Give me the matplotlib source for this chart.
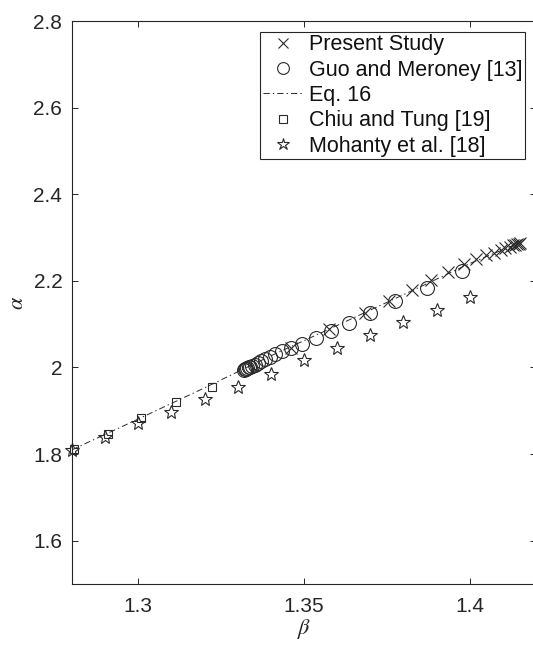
import matplotlib
matplotlib.use("Agg")
import matplotlib.pyplot as plt
from matplotlib.ticker import FormatStrFormatter

plt.rcParams['font.family'] = ['Liberation Sans', 'DejaVu Sans']
plt.rcParams['mathtext.fontset'] = 'stix'
plt.rcParams['lines.scale_dashes'] = False

# Present Study (x marks)
present_beta = [1.3461, 1.3575, 1.3684, 1.3756, 1.3825, 1.3883, 1.3934, 1.3982,
                1.4018, 1.4048, 1.4072, 1.4093, 1.4108, 1.4121, 1.4130, 1.4137,
                1.4143, 1.4148, 1.4151]
present_alpha = [2.046, 2.088, 2.125, 2.154, 2.180, 2.203, 2.221, 2.240,
                 2.250, 2.259, 2.265, 2.272, 2.276, 2.279, 2.282, 2.283,
                 2.285, 2.286, 2.287]

# Guo and Meroney [13] (circles)
guo_beta = [1.3319, 1.3322, 1.3325, 1.3328, 1.3333, 1.3337, 1.3343, 1.3351,
            1.3360, 1.3370, 1.3383, 1.3396, 1.3413, 1.3434, 1.3461, 1.3494,
            1.3536, 1.3581, 1.3636, 1.3699, 1.3774, 1.3870, 1.3977]
guo_alpha = [1.994, 1.996, 1.997, 1.998, 2.000, 2.001, 2.003, 2.006,
             2.010, 2.014, 2.019, 2.025, 2.031, 2.038, 2.045, 2.054,
             2.068, 2.084, 2.102, 2.125, 2.153, 2.183, 2.223]

# Eq. 16 (dash-dot line)
eq_beta = [1.28, 1.30, 1.32, 1.34, 1.36, 1.38, 1.40, 1.415]
eq_alpha = [1.810, 1.881, 1.953, 2.027, 2.097, 2.168, 2.240, 2.288]

# Chiu and Tung [19] (squares)
chiu_beta = [1.2807, 1.2908, 1.3009, 1.3113, 1.3222]
chiu_alpha = [1.812, 1.846, 1.883, 1.920, 1.956]

# Mohanty et al. [18] (stars)
mohanty_beta = [1.28, 1.29, 1.30, 1.31, 1.32, 1.33, 1.34, 1.35, 1.36, 1.37,
                1.38, 1.39, 1.40]
mohanty_alpha = [1.809, 1.839, 1.871, 1.898, 1.927, 1.956, 1.986, 2.018,
                 2.045, 2.075, 2.105, 2.133, 2.162]

ink = '#262626'
mk = '#2a2a2a'

fig = plt.figure(figsize=(5.33, 6.51), dpi=100)
ax = fig.add_axes([0.1351, 0.1029, 0.8705, 0.8648])

ax.plot(present_beta, present_alpha, ls='none', marker='x', ms=8, mew=0.8,
        color=mk, label='Present Study', clip_on=False)
ax.plot(guo_beta, guo_alpha, ls='none', marker='o', ms=10, mew=0.8,
        mfc='none', mec=mk, label='Guo and Meroney [13]', clip_on=False)
ax.plot(eq_beta, eq_alpha, color=mk, lw=0.7, dashes=[4.5, 2.2, 1, 2.2],
        label='Eq. 16')
ax.plot(chiu_beta, chiu_alpha, ls='none', marker='s', ms=6, mew=0.8,
        mfc='none', mec=mk, label='Chiu and Tung [19]', clip_on=False)
ax.plot(mohanty_beta, mohanty_alpha, ls='none', marker='*', ms=10.5, mew=0.8,
        mfc='none', mec=mk, label='Mohanty et al. [18]', clip_on=False)

ax.set_xlim(1.28, 1.42)
ax.set_ylim(1.5, 2.8)
ax.set_xticks([1.3, 1.35, 1.4])
ax.set_yticks([1.6, 1.8, 2.0, 2.2, 2.4, 2.6, 2.8])
ax.xaxis.set_major_formatter(FormatStrFormatter('%g'))
ax.yaxis.set_major_formatter(FormatStrFormatter('%g'))
ax.tick_params(direction='in', length=4, width=0.7, colors=ink, labelsize=15,
               top=True, right=True, pad=7)
ax.tick_params(axis='x', pad=9)
for s in ax.spines.values():
    s.set_color(ink)
    s.set_linewidth(0.8)

ax.set_xlabel(r'$\beta$', fontsize=16, color=ink, labelpad=1)
ax.set_ylabel(r'$\alpha$', fontsize=16, color=ink, labelpad=4)

leg = ax.legend(loc='upper right', fontsize=15.5, numpoints=1, fancybox=False,
                framealpha=1, edgecolor=ink, handlelength=1.9, markerscale=0.85,
                handletextpad=0.25, borderpad=0.12, labelspacing=0.2,
                borderaxespad=0.5)
leg.get_frame().set_linewidth(0.8)
leg.set_zorder(5)
for t in leg.get_texts():
    t.set_color('#111111')

fig.savefig('out.png', dpi=100)
